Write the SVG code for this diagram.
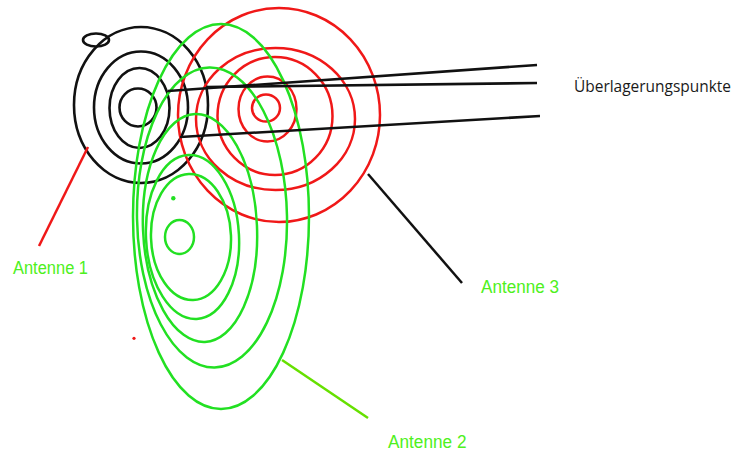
<svg xmlns="http://www.w3.org/2000/svg" width="738" height="454" viewBox="0 0 738 454">
<style>
.k{fill:none;stroke:#111;stroke-width:2.6}
.r{fill:none;stroke:#f01818;stroke-width:2.5}
.g{fill:none;stroke:#22e022;stroke-width:2.5}
.lbl{font-family:"Liberation Sans",Arial,sans-serif;font-size:18px;fill:#4ef020}
.ov{font-family:"Open Sans","Liberation Sans",sans-serif;font-size:16px;fill:#1a1a1a}
</style>
<rect width="738" height="454" fill="#fff"/>
<g id="antenne1">
<ellipse class="k" cx="138" cy="107.5" rx="18.5" ry="19"/>
<ellipse class="k" cx="139.5" cy="108" rx="30" ry="40"/>
<ellipse class="k" cx="141" cy="107.5" rx="47" ry="56"/>
<ellipse class="k" cx="141" cy="105" rx="67" ry="78"/>
<ellipse class="k" cx="96" cy="40" rx="13" ry="6.5"/>
</g>
<g id="antenne3">
<ellipse class="r" cx="266" cy="108" rx="14" ry="13.5"/>
<ellipse class="r" cx="267.5" cy="109" rx="29" ry="32.5"/>
<ellipse class="r" cx="275" cy="116" rx="57.5" ry="59"/>
<ellipse class="r" cx="275.5" cy="119" rx="79.5" ry="71"/>
<ellipse class="r" cx="279" cy="115" rx="101" ry="107"/>
</g>
<g id="antenne2">
<ellipse class="g" cx="179.5" cy="237" rx="14.5" ry="17"/>
<ellipse class="g" cx="191" cy="237" rx="40" ry="63" transform="rotate(-2 191 237)"/>
<ellipse class="g" cx="192.5" cy="237" rx="46.5" ry="82" transform="rotate(-3 192.5 237)"/>
<ellipse class="g" cx="200" cy="228" rx="57" ry="114" transform="rotate(-2.5 200 228)"/>
<ellipse class="g" cx="212" cy="217.5" rx="75" ry="150" transform="rotate(-1 212 217.5)"/>
<ellipse class="g" cx="221" cy="216.5" rx="88" ry="192.5"/>
<circle cx="173.3" cy="198.3" r="2.2" fill="#22e022"/>
</g>
<circle id="reddot" cx="134" cy="338.3" r="1.6" fill="#f01818"/>
<g id="connectors">
<line x1="168" y1="91" x2="537" y2="65" stroke="#111" stroke-width="2.6"/>
<line x1="207" y1="87" x2="537" y2="83" stroke="#111" stroke-width="2.6"/>
<line x1="180" y1="137" x2="540" y2="116" stroke="#111" stroke-width="2.6"/>
<line x1="39" y1="246" x2="88" y2="147" stroke="#f01818" stroke-width="2.5"/>
<line x1="368" y1="174" x2="462" y2="283" stroke="#111" stroke-width="2.5"/>
<line x1="282" y1="360" x2="368" y2="418" stroke="#66e000" stroke-width="2.5"/>
</g>
<g id="labels">
<text class="lbl" x="13" y="274" textLength="75" lengthAdjust="spacingAndGlyphs">Antenne 1</text>
<text class="lbl" x="481" y="292.5" textLength="78" lengthAdjust="spacingAndGlyphs">Antenne 3</text>
<text class="lbl" x="388" y="447.5" textLength="78.5" lengthAdjust="spacingAndGlyphs">Antenne 2</text>
<text class="ov" x="574" y="91.5" textLength="157" lengthAdjust="spacingAndGlyphs">Überlagerungspunkte</text>
</g>
</svg>
